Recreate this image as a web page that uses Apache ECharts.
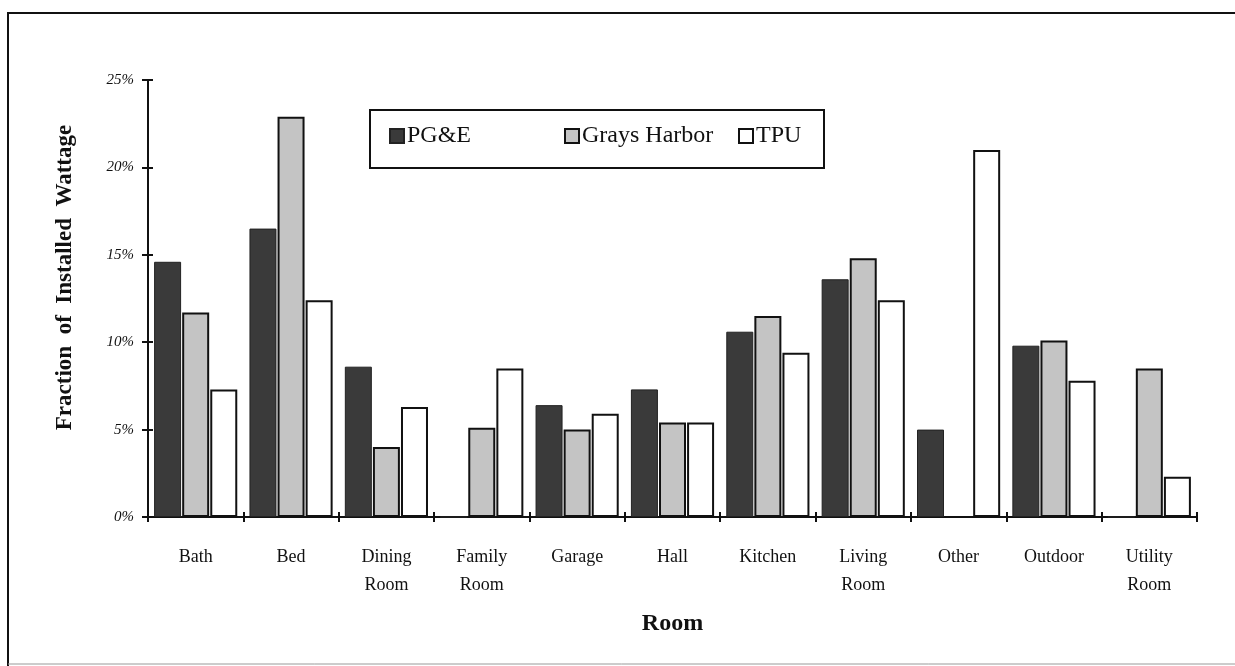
<!DOCTYPE html>
<html>
<head>
<meta charset="utf-8">
<script src="https://cdn.jsdelivr.net/npm/echarts@6/dist/echarts.min.js"></script>
<style>
html,body{margin:0;padding:0;background:#fff;}
#chart{width:1235px;height:666px;}
</style>
</head>
<body>
<div id="chart"></div>
<script>
var categories = ['Bath','Bed','Dining\nRoom','Family\nRoom','Garage','Hall','Kitchen','Living\nRoom','Other','Outdoor','Utility\nRoom'];
var pge = [14.6, 16.5, 8.6, 0, 6.4, 7.3, 10.6, 13.6, 5.0, 9.8, 0];
var graysHarbor = [11.7, 22.9, 4.0, 5.1, 5.0, 5.4, 11.5, 14.8, 0, 10.1, 8.5];
var tpu = [7.3, 12.4, 6.3, 8.5, 5.9, 5.4, 9.4, 12.4, 21.0, 7.8, 2.3];
var yTicks = [0, 5, 10, 15, 20, 25];

var FONT = '"Liberation Serif", "Times New Roman", serif';
var chart = echarts.init(document.getElementById('chart'), null, {renderer: 'canvas'});

function legendFor(name, left) {
  return {
    data: [name], left: left, top: 124, itemWidth: 14, itemHeight: 14, itemGap: 0,
    icon: 'rect', padding: 0,
    textStyle: {fontFamily: FONT, fontSize: 24, color: '#111', padding: [0,0,0,-2]}
  };
}

var yBase = {
  type: 'value', min: yTicks[0], max: yTicks[yTicks.length-1], interval: 5,
  splitLine: {show: false},
  axisLine: {show: true, lineStyle: {color: '#111', width: 2}}
};

var option = {
  backgroundColor: '#fff',
  animation: false,
  grid: {left: 148, right: 38, top: 80, bottom: 149},
  legend: [legendFor('PG&E', 389), legendFor('Grays Harbor', 564), legendFor('TPU', 738)],
  graphic: [
    {type: 'polyline', shape: {points: [[8, 666], [8, 13], [1235, 13]]}, style: {stroke: '#111', lineWidth: 2, fill: null}},
    {type: 'line', shape: {x1: 8, y1: 664, x2: 1235, y2: 664}, style: {stroke: '#999', lineWidth: 1}},
    {type: 'rect', shape: {x: 370, y: 110, width: 454, height: 58}, style: {stroke: '#111', lineWidth: 2, fill: null}, z: 100}
  ],
  xAxis: [{
    type: 'category', data: categories,
    name: 'Room', nameLocation: 'middle', nameGap: 95,
    nameTextStyle: {fontFamily: FONT, fontSize: 24, fontWeight: 'bold', color: '#111'},
    axisLine: {lineStyle: {color: '#111', width: 2}},
    axisTick: {show: true, alignWithLabel: false, inside: false, length: 5, lineStyle: {color: '#111', width: 2}},
    axisLabel: {fontFamily: FONT, fontSize: 18, color: '#111', margin: 26, lineHeight: 28}
  }, {
    type: 'category', data: categories, position: 'bottom',
    axisLine: {show: false},
    axisTick: {show: true, alignWithLabel: false, inside: true, length: 5, lineStyle: {color: '#111', width: 2}},
    axisLabel: {show: false}
  }],
  yAxis: [Object.assign({}, yBase, {
    name: 'Fraction  of  Installed  Wattage', nameLocation: 'middle', nameGap: 71,
    nameTextStyle: {fontFamily: FONT, fontSize: 23, fontWeight: 'bold', color: '#111', padding: [0, 0, 0, 42]},
    axisTick: {show: true, inside: false, length: 6, lineStyle: {color: '#111', width: 2}},
    axisLabel: {fontFamily: FONT, fontSize: 15, fontStyle: 'italic', color: '#111', margin: 14, formatter: '{value}%'}
  }), Object.assign({}, yBase, {
    position: 'left',
    axisTick: {show: true, inside: true, length: 5, lineStyle: {color: '#111', width: 2}},
    axisLabel: {show: false}
  })],
  series: [
    {name: 'PG&E', type: 'bar', data: pge, barWidth: 27, barGap: '4%', barCategoryGap: '12%',
     itemStyle: {color: '#3a3a3a', borderColor: '#222', borderWidth: 1}},
    {name: 'Grays Harbor', type: 'bar', data: graysHarbor, barWidth: 27, barGap: '4%',
     itemStyle: {color: '#c4c4c4', borderColor: '#111', borderWidth: 2}},
    {name: 'TPU', type: 'bar', data: tpu, barWidth: 27, barGap: '4%',
     itemStyle: {color: '#ffffff', borderColor: '#111', borderWidth: 2}}
  ]
};
chart.setOption(option);
</script>
</body>
</html>
